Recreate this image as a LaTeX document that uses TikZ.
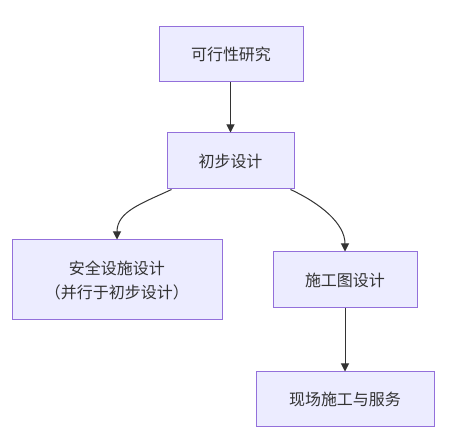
\documentclass[tikz,border=0pt]{standalone}
\usepackage{fontspec}
\setmainfont{Noto Sans CJK SC}
\usetikzlibrary{arrows.meta}
\definecolor{boxfill}{HTML}{ECECFF}
\definecolor{boxdraw}{HTML}{9370DB}
\definecolor{ink}{HTML}{333333}
\begin{document}
\begin{tikzpicture}[x=1pt,y=-1pt,
  box/.style={draw=boxdraw,fill=boxfill,line width=1pt,text=ink,
    font=\fontsize{16}{24}\selectfont,align=center,inner sep=0pt},
  link/.style={draw=ink,line width=1pt,-{Triangle[length=8pt,width=8pt]}}]
\useasboundingbox (0,0) rectangle (451,446);
\node[box,minimum width=144pt,minimum height=55pt] (n1) at (231,54.5) {可行性研究};
\node[box,minimum width=127pt,minimum height=56pt] (n2) at (230.5,161) {初步设计};
\node[box,minimum width=210pt,minimum height=80pt] (n3) at (117,280) {安全设施设计\\（并行于初步设计）};
\node[box,minimum width=144pt,minimum height=56pt] (n4) at (345,280) {施工图设计};
\node[box,minimum width=178pt,minimum height=55pt] (n5) at (345,399.5) {现场施工与服务};
\draw[link] (n1.south -| n2.north) -- (n2.north);
\draw[link] ([xshift=5pt]n2.south west) .. controls +(-30,14) and +(0,-28) .. (n3.north);
\draw[link] ([xshift=-4pt]n2.south east) .. controls +(30,14) and +(0,-28) .. (n4.north);
\draw[link] (n4.south) -- (n5.north);
\end{tikzpicture}
\end{document}
